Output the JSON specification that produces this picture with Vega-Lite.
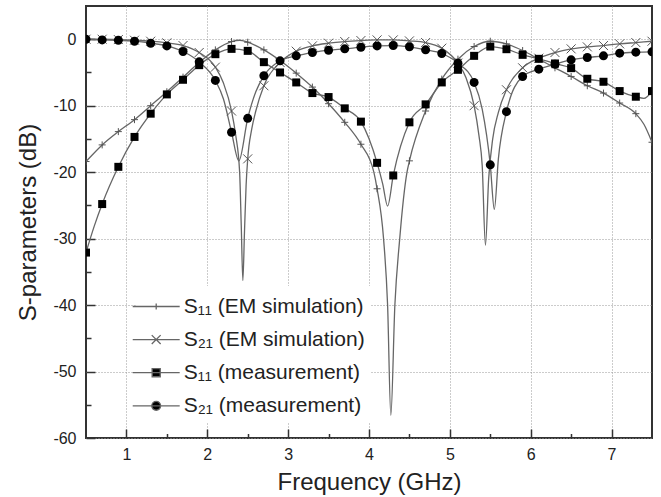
{
  "$schema": "https://vega.github.io/schema/vega-lite/v6.json",
  "width": 566,
  "height": 432,
  "autosize": "none",
  "padding": {"left": 86, "top": 6, "right": 9, "bottom": 59},
  "background": "white",
  "config": {
    "font": "Liberation Sans",
    "view": {"stroke": "#333", "strokeWidth": 2},
    "axis": {
      "domain": false,
      "labelFont": "Liberation Sans",
      "titleFont": "Liberation Sans",
      "labelColor": "#222",
      "titleColor": "#222",
      "titleFontWeight": "normal",
      "tickColor": "#333",
      "tickWidth": 1.5,
      "gridColor": "#999",
      "gridDash": [1, 2],
      "gridWidth": 1
    }
  },
  "data": {
    "values": [
      {"s": "S11 EM", "f": 0.5, "v": -18.4}, {"s": "S11 EM", "f": 0.7, "v": -15.9}, {"s": "S11 EM", "f": 0.9, "v": -13.9}, {"s": "S11 EM", "f": 1.1, "v": -12.1}, {"s": "S11 EM", "f": 1.3, "v": -10.0}, {"s": "S11 EM", "f": 1.5, "v": -7.9}, {"s": "S11 EM", "f": 1.7, "v": -5.7}, {"s": "S11 EM", "f": 1.9, "v": -3.5}, {"s": "S11 EM", "f": 2.1, "v": -1.6}, {"s": "S11 EM", "f": 2.3, "v": -0.35}, {"s": "S11 EM", "f": 2.4, "v": -0.15}, {"s": "S11 EM", "f": 2.5, "v": -0.45}, {"s": "S11 EM", "f": 2.7, "v": -1.6}, {"s": "S11 EM", "f": 2.9, "v": -3.2}, {"s": "S11 EM", "f": 3.1, "v": -5.1}, {"s": "S11 EM", "f": 3.3, "v": -7.2}, {"s": "S11 EM", "f": 3.5, "v": -9.7}, {"s": "S11 EM", "f": 3.7, "v": -12.5}, {"s": "S11 EM", "f": 3.9, "v": -15.8}, {"s": "S11 EM", "f": 4.06, "v": -20}, {"s": "S11 EM", "f": 4.1, "v": -22.5}, {"s": "S11 EM", "f": 4.18, "v": -30}, {"s": "S11 EM", "f": 4.23, "v": -40}, {"s": "S11 EM", "f": 4.27, "v": -56.6}, {"s": "S11 EM", "f": 4.32, "v": -40}, {"s": "S11 EM", "f": 4.38, "v": -30}, {"s": "S11 EM", "f": 4.47, "v": -20}, {"s": "S11 EM", "f": 4.5, "v": -18.3}, {"s": "S11 EM", "f": 4.7, "v": -10.8}, {"s": "S11 EM", "f": 4.9, "v": -6.0}, {"s": "S11 EM", "f": 5.1, "v": -3.0}, {"s": "S11 EM", "f": 5.3, "v": -1.1}, {"s": "S11 EM", "f": 5.5, "v": -0.3}, {"s": "S11 EM", "f": 5.7, "v": -0.7}, {"s": "S11 EM", "f": 5.9, "v": -1.7}, {"s": "S11 EM", "f": 6.1, "v": -3.0}, {"s": "S11 EM", "f": 6.3, "v": -4.3}, {"s": "S11 EM", "f": 6.5, "v": -5.6}, {"s": "S11 EM", "f": 6.7, "v": -7.0}, {"s": "S11 EM", "f": 6.9, "v": -8.1}, {"s": "S11 EM", "f": 7.1, "v": -9.6}, {"s": "S11 EM", "f": 7.3, "v": -11.2}, {"s": "S11 EM", "f": 7.4, "v": -12.8}, {"s": "S11 EM", "f": 7.5, "v": -15.5},
      {"s": "S21 EM", "f": 0.5, "v": 0}, {"s": "S21 EM", "f": 0.7, "v": 0}, {"s": "S21 EM", "f": 0.9, "v": -0.05}, {"s": "S21 EM", "f": 1.1, "v": -0.15}, {"s": "S21 EM", "f": 1.3, "v": -0.3}, {"s": "S21 EM", "f": 1.5, "v": -0.55}, {"s": "S21 EM", "f": 1.7, "v": -0.95}, {"s": "S21 EM", "f": 1.9, "v": -2.0}, {"s": "S21 EM", "f": 2.1, "v": -4.2}, {"s": "S21 EM", "f": 2.2, "v": -6.6}, {"s": "S21 EM", "f": 2.3, "v": -10.8}, {"s": "S21 EM", "f": 2.35, "v": -14.3}, {"s": "S21 EM", "f": 2.4, "v": -20}, {"s": "S21 EM", "f": 2.42, "v": -28}, {"s": "S21 EM", "f": 2.44, "v": -36.3}, {"s": "S21 EM", "f": 2.46, "v": -29}, {"s": "S21 EM", "f": 2.48, "v": -22}, {"s": "S21 EM", "f": 2.5, "v": -18}, {"s": "S21 EM", "f": 2.55, "v": -13.5}, {"s": "S21 EM", "f": 2.6, "v": -10.8}, {"s": "S21 EM", "f": 2.7, "v": -7.0}, {"s": "S21 EM", "f": 2.9, "v": -3.5}, {"s": "S21 EM", "f": 3.1, "v": -1.8}, {"s": "S21 EM", "f": 3.3, "v": -1.0}, {"s": "S21 EM", "f": 3.5, "v": -0.6}, {"s": "S21 EM", "f": 3.7, "v": -0.35}, {"s": "S21 EM", "f": 3.9, "v": -0.2}, {"s": "S21 EM", "f": 4.1, "v": -0.1}, {"s": "S21 EM", "f": 4.3, "v": -0.1}, {"s": "S21 EM", "f": 4.5, "v": -0.25}, {"s": "S21 EM", "f": 4.7, "v": -0.5}, {"s": "S21 EM", "f": 4.9, "v": -1.35}, {"s": "S21 EM", "f": 5.1, "v": -3.6}, {"s": "S21 EM", "f": 5.2, "v": -5.8}, {"s": "S21 EM", "f": 5.3, "v": -10.0}, {"s": "S21 EM", "f": 5.36, "v": -14.5}, {"s": "S21 EM", "f": 5.4, "v": -19}, {"s": "S21 EM", "f": 5.44, "v": -31}, {"s": "S21 EM", "f": 5.48, "v": -21}, {"s": "S21 EM", "f": 5.53, "v": -15}, {"s": "S21 EM", "f": 5.6, "v": -11}, {"s": "S21 EM", "f": 5.7, "v": -7.6}, {"s": "S21 EM", "f": 5.9, "v": -4.3}, {"s": "S21 EM", "f": 6.1, "v": -2.85}, {"s": "S21 EM", "f": 6.3, "v": -2.0}, {"s": "S21 EM", "f": 6.5, "v": -1.45}, {"s": "S21 EM", "f": 6.7, "v": -1.15}, {"s": "S21 EM", "f": 6.9, "v": -0.95}, {"s": "S21 EM", "f": 7.1, "v": -0.7}, {"s": "S21 EM", "f": 7.3, "v": -0.5}, {"s": "S21 EM", "f": 7.5, "v": -0.3},
      {"s": "S11 meas", "f": 0.5, "v": -32.1}, {"s": "S11 meas", "f": 0.6, "v": -28.2}, {"s": "S11 meas", "f": 0.7, "v": -24.8}, {"s": "S11 meas", "f": 0.9, "v": -19.2}, {"s": "S11 meas", "f": 1.1, "v": -14.7}, {"s": "S11 meas", "f": 1.3, "v": -11.2}, {"s": "S11 meas", "f": 1.5, "v": -8.3}, {"s": "S11 meas", "f": 1.7, "v": -6.1}, {"s": "S11 meas", "f": 1.9, "v": -3.9}, {"s": "S11 meas", "f": 2.1, "v": -2.25}, {"s": "S11 meas", "f": 2.3, "v": -1.45}, {"s": "S11 meas", "f": 2.5, "v": -1.75}, {"s": "S11 meas", "f": 2.7, "v": -3.45}, {"s": "S11 meas", "f": 2.9, "v": -5.0}, {"s": "S11 meas", "f": 3.1, "v": -6.5}, {"s": "S11 meas", "f": 3.3, "v": -8.1}, {"s": "S11 meas", "f": 3.5, "v": -8.7}, {"s": "S11 meas", "f": 3.7, "v": -10.4}, {"s": "S11 meas", "f": 3.9, "v": -12.4}, {"s": "S11 meas", "f": 4.1, "v": -18.6}, {"s": "S11 meas", "f": 4.17, "v": -21.8}, {"s": "S11 meas", "f": 4.23, "v": -25.1}, {"s": "S11 meas", "f": 4.3, "v": -20.5}, {"s": "S11 meas", "f": 4.5, "v": -12.5}, {"s": "S11 meas", "f": 4.7, "v": -9.8}, {"s": "S11 meas", "f": 4.9, "v": -6.5}, {"s": "S11 meas", "f": 5.1, "v": -4.6}, {"s": "S11 meas", "f": 5.3, "v": -2.5}, {"s": "S11 meas", "f": 5.5, "v": -1.1}, {"s": "S11 meas", "f": 5.7, "v": -1.5}, {"s": "S11 meas", "f": 5.9, "v": -2.35}, {"s": "S11 meas", "f": 6.1, "v": -2.95}, {"s": "S11 meas", "f": 6.3, "v": -3.65}, {"s": "S11 meas", "f": 6.5, "v": -4.35}, {"s": "S11 meas", "f": 6.7, "v": -5.95}, {"s": "S11 meas", "f": 6.9, "v": -6.4}, {"s": "S11 meas", "f": 7.1, "v": -7.8}, {"s": "S11 meas", "f": 7.3, "v": -8.65}, {"s": "S11 meas", "f": 7.4, "v": -8.9}, {"s": "S11 meas", "f": 7.5, "v": -7.8},
      {"s": "S21 meas", "f": 0.5, "v": 0}, {"s": "S21 meas", "f": 0.7, "v": -0.1}, {"s": "S21 meas", "f": 0.9, "v": -0.15}, {"s": "S21 meas", "f": 1.1, "v": -0.3}, {"s": "S21 meas", "f": 1.3, "v": -0.6}, {"s": "S21 meas", "f": 1.5, "v": -1.0}, {"s": "S21 meas", "f": 1.7, "v": -1.85}, {"s": "S21 meas", "f": 1.9, "v": -3.4}, {"s": "S21 meas", "f": 2.1, "v": -6.2}, {"s": "S21 meas", "f": 2.2, "v": -9.0}, {"s": "S21 meas", "f": 2.3, "v": -14.0}, {"s": "S21 meas", "f": 2.39, "v": -18.3}, {"s": "S21 meas", "f": 2.5, "v": -11.9}, {"s": "S21 meas", "f": 2.6, "v": -7.9}, {"s": "S21 meas", "f": 2.7, "v": -5.5}, {"s": "S21 meas", "f": 2.9, "v": -3.25}, {"s": "S21 meas", "f": 3.1, "v": -2.5}, {"s": "S21 meas", "f": 3.3, "v": -2.0}, {"s": "S21 meas", "f": 3.5, "v": -1.65}, {"s": "S21 meas", "f": 3.7, "v": -1.45}, {"s": "S21 meas", "f": 3.9, "v": -1.2}, {"s": "S21 meas", "f": 4.1, "v": -1.0}, {"s": "S21 meas", "f": 4.3, "v": -0.95}, {"s": "S21 meas", "f": 4.5, "v": -1.15}, {"s": "S21 meas", "f": 4.7, "v": -1.6}, {"s": "S21 meas", "f": 4.9, "v": -2.15}, {"s": "S21 meas", "f": 5.1, "v": -3.6}, {"s": "S21 meas", "f": 5.3, "v": -6.5}, {"s": "S21 meas", "f": 5.4, "v": -10.5}, {"s": "S21 meas", "f": 5.5, "v": -18.9}, {"s": "S21 meas", "f": 5.55, "v": -25.6}, {"s": "S21 meas", "f": 5.6, "v": -18}, {"s": "S21 meas", "f": 5.7, "v": -10.9}, {"s": "S21 meas", "f": 5.9, "v": -5.6}, {"s": "S21 meas", "f": 6.1, "v": -4.5}, {"s": "S21 meas", "f": 6.3, "v": -3.75}, {"s": "S21 meas", "f": 6.5, "v": -3.1}, {"s": "S21 meas", "f": 6.7, "v": -2.75}, {"s": "S21 meas", "f": 6.9, "v": -2.5}, {"s": "S21 meas", "f": 7.1, "v": -2.1}, {"s": "S21 meas", "f": 7.3, "v": -1.95}, {"s": "S21 meas", "f": 7.5, "v": -1.9}
    ]
  },
  "encoding": {
    "x": {
      "field": "f", "type": "quantitative",
      "scale": {"domain": [0.5, 7.5], "nice": false, "zero": false},
      "axis": {
        "title": "Frequency (GHz)",
        "values": [1, 1.5, 2, 2.5, 3, 3.5, 4, 4.5, 5, 5.5, 6, 6.5, 7],
        "labelExpr": "datum.value % 1 === 0 ? '' + datum.value : ''",
        "tickSize": {"condition": {"test": "datum.value % 1 === 0", "value": -9}, "value": -4.5},
        "gridOpacity": {"condition": {"test": "datum.value % 1 === 0", "value": 1}, "value": 0},
        "labelFontSize": 16,
        "labelPadding": 17,
        "titleFontSize": 24,
        "titlePadding": 8
      }
    },
    "y": {
      "field": "v", "type": "quantitative",
      "scale": {"domain": [-60, 5], "nice": false, "zero": false},
      "axis": {
        "title": "S-parameters (dB)",
        "values": [-60, -55, -50, -45, -40, -35, -30, -25, -20, -15, -10, -5, 0],
        "labelExpr": "datum.value % 10 === 0 ? '' + datum.value : ''",
        "tickSize": {"condition": {"test": "datum.value % 10 === 0", "value": -9}, "value": -5},
        "gridOpacity": {"condition": {"test": "datum.value % 10 === 0", "value": 1}, "value": 0},
        "labelFontSize": 16,
        "labelPadding": 19,
        "titleFontSize": 24,
        "titlePadding": 12
      }
    }
  },
  "layer": [
    {
      "mark": {"type": "line", "strokeWidth": 1.3, "interpolate": "monotone", "clip": true},
      "encoding": {
        "color": {
          "field": "s", "type": "nominal",
          "scale": {"domain": ["S11 EM", "S21 EM", "S11 meas", "S21 meas"], "range": ["#666", "#666", "#666", "#666"]},
          "legend": {
            "title": null,
            "orient": "none",
            "legendX": 49.7,
            "legendY": 280,
            "padding": 6,
            "fillColor": "white",
            "symbolType": {"expr": "datum.value === 'S11 EM' ? 'M-1.74,0L1.74,0M0,-0.22L0,0.22' : datum.value === 'S21 EM' ? 'M-1.74,0L1.74,0M-0.33,-0.33L0.33,0.33M-0.33,0.33L0.33,-0.33' : datum.value === 'S11 meas' ? 'M-1.74,0L1.74,0M-0.3,-0.3L0.3,-0.3L0.3,0.3L-0.3,0.3Z' : 'M-1.74,0L1.74,0M0.33,0A0.33,0.33,0,1,1,-0.33,0A0.33,0.33,0,1,1,0.33,0Z'"},
            "symbolFillColor": {"expr": "datum.value === 'S11 meas' || datum.value === 'S21 meas' ? '#000' : 'transparent'"},
            "symbolSize": 729,
            "symbolStrokeWidth": 1.3,
            "symbolStrokeColor": "#666",
            "rowPadding": 8.1,
            "labelOffset": 13,
            "labelFont": "Liberation Sans",
            "labelFontSize": 21,
            "labelColor": "#222",
            "labelLimit": 400,
            "labelExpr": "datum.label === 'S11 EM' ? 'S₁₁ (EM simulation)' : datum.label === 'S21 EM' ? 'S₂₁ (EM simulation)' : datum.label === 'S11 meas' ? 'S₁₁ (measurement)' : 'S₂₁ (measurement)'"
          }
        }
      }
    },
    {
      "transform": [{"filter": "datum.s === 'S11 EM' && abs((datum.f - 0.5) * 5 - round((datum.f - 0.5) * 5)) < 0.01"}],
      "mark": {"type": "point", "shape": "M0,-1L0,1M-1,0L1,0", "size": 49, "filled": false, "stroke": "#555", "strokeWidth": 1, "opacity": 1, "clip": true},
      "encoding": {}
    },
    {
      "transform": [{"filter": "datum.s === 'S21 EM' && abs((datum.f - 0.5) * 5 - round((datum.f - 0.5) * 5)) < 0.01"}],
      "mark": {"type": "point", "shape": "M-1,-1L1,1M-1,1L1,-1", "size": 81, "filled": false, "stroke": "#555", "strokeWidth": 1, "opacity": 1, "clip": true},
      "encoding": {}
    },
    {
      "transform": [{"filter": "datum.s === 'S11 meas' && abs((datum.f - 0.5) * 5 - round((datum.f - 0.5) * 5)) < 0.01"}],
      "mark": {"type": "point", "shape": "square", "size": 64, "filled": true, "color": "#000", "opacity": 1, "clip": true},
      "encoding": {}
    },
    {
      "transform": [{"filter": "datum.s === 'S21 meas' && abs((datum.f - 0.5) * 5 - round((datum.f - 0.5) * 5)) < 0.01"}],
      "mark": {"type": "point", "shape": "circle", "size": 81, "filled": true, "color": "#000", "opacity": 1, "clip": true},
      "encoding": {}
    }
  ]
}
